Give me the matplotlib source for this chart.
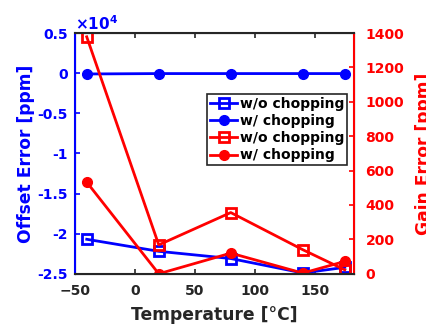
import matplotlib
matplotlib.use('Agg')
from matplotlib import pyplot as plt

temps = [-40, 20, 80, 140, 175]

offset_wo = [-20700, -22200, -23100, -24900, -24200]   # ppm
offset_w = [-100, -50, -50, -50, -50]
gain_wo = [1378, 168, 356, 140, 23]
gain_w = [533, 0, 120, 4, 72]

plt.rcParams['font.weight'] = 'bold'
plt.rcParams['font.size'] = 10
plt.rcParams['axes.labelweight'] = 'bold'

fig, ax1 = plt.subplots(figsize=(4.27, 3.24), dpi=100)
fig.subplots_adjust(left=0.175, right=0.83, top=0.898, bottom=0.155)

l1, = ax1.plot(temps, offset_wo, '-s', color='blue', lw=2, ms=7, mfc='none', mew=2, label='w/o chopping')
l2, = ax1.plot(temps, offset_w, '-o', color='blue', lw=2, ms=7, label='w/ chopping')
ax1.set_xlim(-50, 183)
ax1.set_ylim(-25000, 5000)
ax1.set_yticks([-25000, -20000, -15000, -10000, -5000, 0, 5000])
ax1.set_yticklabels(['-2.5', '-2', '-1.5', '-1', '-0.5', '0', '0.5'])
ax1.text(0.0, 1.0, r'$\times\mathbf{10^4}$', transform=ax1.transAxes, color='blue',
         fontsize=11, ha='left', va='bottom')
ax1.set_xticks([-50, 0, 50, 100, 150])
ax1.set_xlabel('Temperature [°C]', fontsize=12.3, color='#262626', labelpad=6)
ax1.set_ylabel('Offset Error [ppm]', fontsize=12.3, color='blue', labelpad=2)
ax1.tick_params(axis='y', colors='blue', direction='in', width=1.2, pad=5)
ax1.tick_params(axis='x', colors='#262626', direction='in', top=True, width=1.2, pad=7)

ax2 = ax1.twinx()
l3, = ax2.plot(temps, gain_wo, '-s', color='red', lw=2, ms=7, mfc='none', mew=2, label='w/o chopping')
l4, = ax2.plot(temps, gain_w, '-o', color='red', lw=2, ms=7, label='w/ chopping')
ax2.set_ylim(0, 1400)
ax2.set_yticks([0, 200, 400, 600, 800, 1000, 1200, 1400])
ax2.set_ylabel('Gain Error [ppm]', fontsize=12.3, color='red', labelpad=8)
ax2.tick_params(axis='y', colors='red', direction='in', width=1.2, pad=8)

ax2.spines['left'].set_color('blue')
ax2.spines['right'].set_color('red')
ax2.spines['top'].set_color('#262626')
ax2.spines['bottom'].set_color('#262626')
for s in ax2.spines.values():
    s.set_linewidth(1.5)

leg = ax2.legend([l1, l2, l3, l4], ['w/o chopping', 'w/ chopping', 'w/o chopping', 'w/ chopping'],
                 loc='upper right', bbox_to_anchor=(0.975, 0.745), fancybox=False, edgecolor='#262626',
                 framealpha=1, handlelength=2.0, handletextpad=0.2, borderpad=0.2,
                 labelspacing=0.22, borderaxespad=0, fontsize=10)
leg.get_frame().set_linewidth(1.2)

fig.savefig('out.png')
